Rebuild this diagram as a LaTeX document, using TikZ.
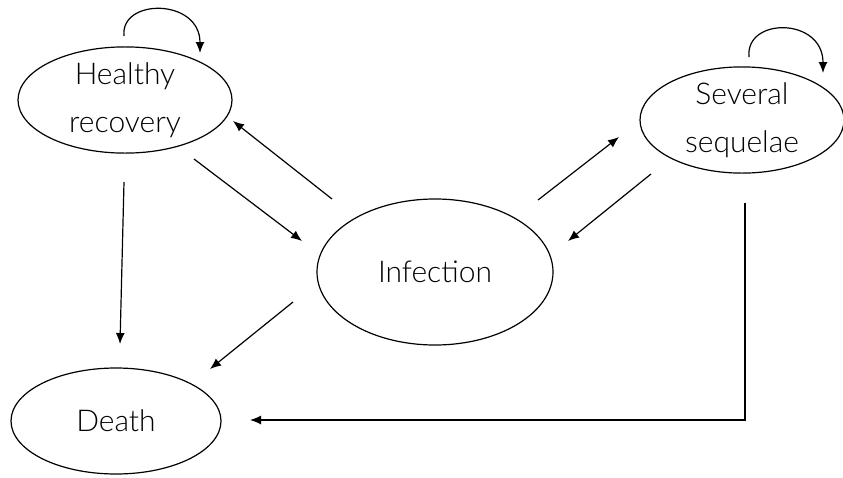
\documentclass[tikz,border=0pt]{standalone}
\usepackage{fontspec}
\setmainfont{Lato}[UprightFont=* Light]
\usetikzlibrary{shapes.geometric,arrows.meta}
\begin{document}
\begin{tikzpicture}[x=1pt,y=-1pt,
  state/.style={draw,ellipse,line width=1.2pt,inner sep=0pt,align=center,font=\fontsize{30}{48}\selectfont},
  conn/.style={line width=1.2pt,-{Latex[length=11pt,width=9pt]}}]
\useasboundingbox (0,0) rectangle (843,477);
\node[state,minimum width=214pt,minimum height=106pt] (hr) at (125,100) {Healthy\\recovery};
\node[state,minimum width=204pt,minimum height=106pt] (ss) at (742,120) {Several\\sequelae};
\node[state,minimum width=236pt,minimum height=146pt] (inf) at (435,272) {Infection};
\node[state,minimum width=210pt,minimum height=106pt] (de) at (116,421) {Death};
% free ends
\coordinate (a1) at (332,199); \coordinate (a2) at (233,121);
\coordinate (b1) at (194,159); \coordinate (b2) at (302,241);
\coordinate (c1) at (538,200); \coordinate (c2) at (619,137);
\coordinate (d1) at (651,174); \coordinate (d2) at (568,241);
\coordinate (e1) at (124,182); \coordinate (e2) at (120,344);
\coordinate (f1) at (293,302); \coordinate (f2) at (210,369);
\coordinate (g1) at (745,203); \coordinate (g2) at (250,420);
\coordinate (h1) at (124,36); \coordinate (h2) at (200,53);
\coordinate (k1) at (749,57); \coordinate (k2) at (823,73);
\draw[conn] (a1) -- (a2);
\draw[conn] (b1) -- (b2);
\draw[conn] (c1) -- (c2);
\draw[conn] (d1) -- (d2);
\draw[conn] (e1) -- (e2);
\draw[conn] (f1) -- (f2);
\draw[conn] (g1) |- (g2);
\draw[conn] (h1) .. controls (120,-2) and (200,-2) .. (h2);
\draw[conn] (k1) .. controls (745,17) and (823,17) .. (k2);
\end{tikzpicture}
\end{document}
